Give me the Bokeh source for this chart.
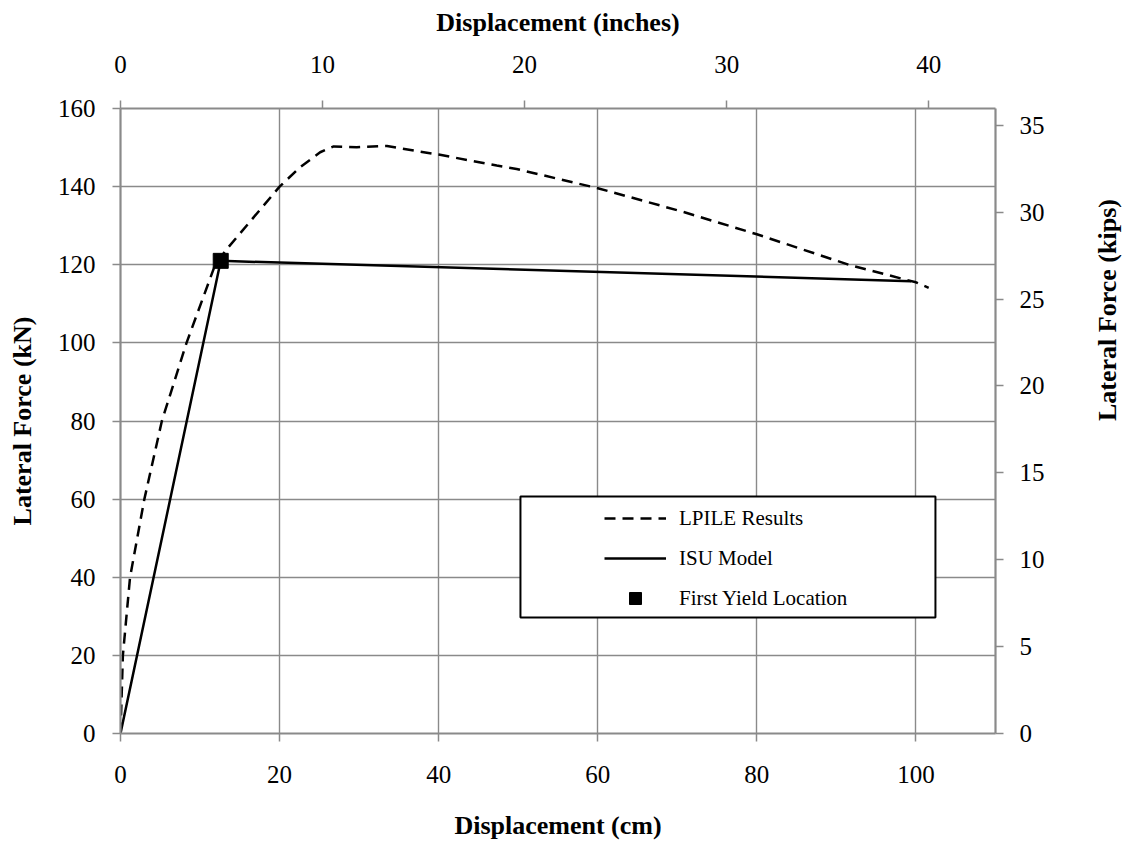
import math
from bokeh.plotting import figure
from bokeh.models import (Range1d, LinearAxis, FixedTicker, Legend, LegendItem,
                          BoxAnnotation)
from bokeh.embed import file_html
from bokeh.resources import INLINE

# ---- data ----
lpile_cm = [0, 0.3, 1.2, 3.0, 5.2, 8.3, 11.9, 13.4, 20.0, 22.6, 25.1, 26.8, 29.7, 33.5,
            37.3, 40.0, 47.3, 49.8, 60.0, 70.8, 80.0, 91.7, 100.0, 101.6]
lpile_kn = [0, 20, 40, 60, 80, 100, 120, 124.1, 140, 145, 148.8, 150.3, 150.1, 150.4,
            149.1, 148.2, 145.4, 144.5, 139.6, 133.5, 127.8, 119.9, 115.5, 114.1]
isu_cm = [0, 12.6, 99.4]
isu_kn = [0, 121.0, 115.8]
yield_cm = [12.6]
yield_kn = [121.0]

x_ticks_cm = [0, 20, 40, 60, 80, 100]
x_ticks_in = [0, 10, 20, 30, 40]
y_ticks_kn = [0, 20, 40, 60, 80, 100, 120, 140, 160]
y_ticks_kips = [0, 5, 10, 15, 20, 25, 30, 35]

CM_PER_IN = 2.54
KN_PER_KIP = 4.44822
X_MAX = 110
Y_MAX = 160

GRID = "#8a8a8a"
FONT = "Liberation Serif"

p = figure(width=1139, height=846, output_backend="svg", toolbar_location=None,
           x_range=Range1d(0, X_MAX), y_range=Range1d(0, Y_MAX),
           min_border_left=120, min_border_right=144, min_border_top=108,
           min_border_bottom=113,
           x_axis_label="Displacement (cm)", y_axis_label="Lateral Force (kN)")
p.outline_line_color = None
p.background_fill_color = "white"
p.border_fill_color = "white"

bottom_axis = p.below[0]
left_axis = p.left[0]

p.extra_x_ranges = {"inch": Range1d(0, X_MAX / CM_PER_IN)}
p.extra_y_ranges = {"kips": Range1d(0, Y_MAX / KN_PER_KIP)}

p.xgrid.ticker = FixedTicker(ticks=x_ticks_cm[1:])
p.ygrid.ticker = FixedTicker(ticks=y_ticks_kn[1:-1])
for g in (p.xgrid, p.ygrid):
    g.grid_line_color = GRID
    g.grid_line_width = 1.4

top_axis = LinearAxis(x_range_name="inch", axis_label="Displacement (inches)")
right_axis = LinearAxis(y_range_name="kips", axis_label="Lateral Force (kips)")
p.add_layout(top_axis, "above")
p.add_layout(right_axis, "right")


def style(ax, ticks, lab_standoff, title_standoff):
    ax.ticker = FixedTicker(ticks=ticks)
    ax.axis_line_color = GRID
    ax.axis_line_width = 2.2
    ax.major_tick_line_color = GRID
    ax.major_tick_line_width = 1.5
    ax.major_tick_out = 8
    ax.major_tick_in = 0
    ax.minor_tick_line_color = None
    ax.major_label_text_font = FONT
    ax.major_label_text_font_size = "25px"
    ax.major_label_text_color = "black"
    ax.major_label_standoff = lab_standoff
    ax.axis_label_text_font = FONT
    ax.axis_label_text_font_style = "bold"
    ax.axis_label_text_font_size = "26px"
    ax.axis_label_text_color = "black"
    ax.axis_label_standoff = title_standoff


style(bottom_axis, x_ticks_cm, 24, 25)
style(left_axis, y_ticks_kn, 17, 18)
style(top_axis, x_ticks_in, 28, 16)
style(right_axis, y_ticks_kips, 16, 60)
# read bottom-to-top, like the left axis title
right_axis.axis_label_orientation = math.pi / 2

r_lp = p.line(lpile_cm, lpile_kn, line_color="black", line_width=2.5, line_dash="11 7")
r_isu = p.line(isu_cm, isu_kn, line_color="black", line_width=2.5)
r_mk = p.scatter(yield_cm, yield_kn, marker="square", size=15, fill_color="black",
                 line_color="black")

# legend frame
box = BoxAnnotation(left=50.28, right=102.45, top=60.68, bottom=29.7,
                    fill_color="white", fill_alpha=1.0, line_color="black",
                    line_width=2, line_alpha=1.0)
p.add_layout(box)

legend = Legend(items=[LegendItem(label="LPILE Results", renderers=[r_lp]),
                       LegendItem(label="ISU Model", renderers=[r_isu]),
                       LegendItem(label="First Yield Location", renderers=[r_mk])],
                location=(484, 120), orientation="vertical",
                glyph_width=62, glyph_height=30, label_height=30, spacing=10,
                padding=8, label_standoff=13, margin=0,
                border_line_color=None, background_fill_alpha=0,
                label_text_font=FONT, label_text_font_size="21px",
                label_text_color="black")
p.add_layout(legend, "center")

open("out.html", "w").write(file_html(p, INLINE))
